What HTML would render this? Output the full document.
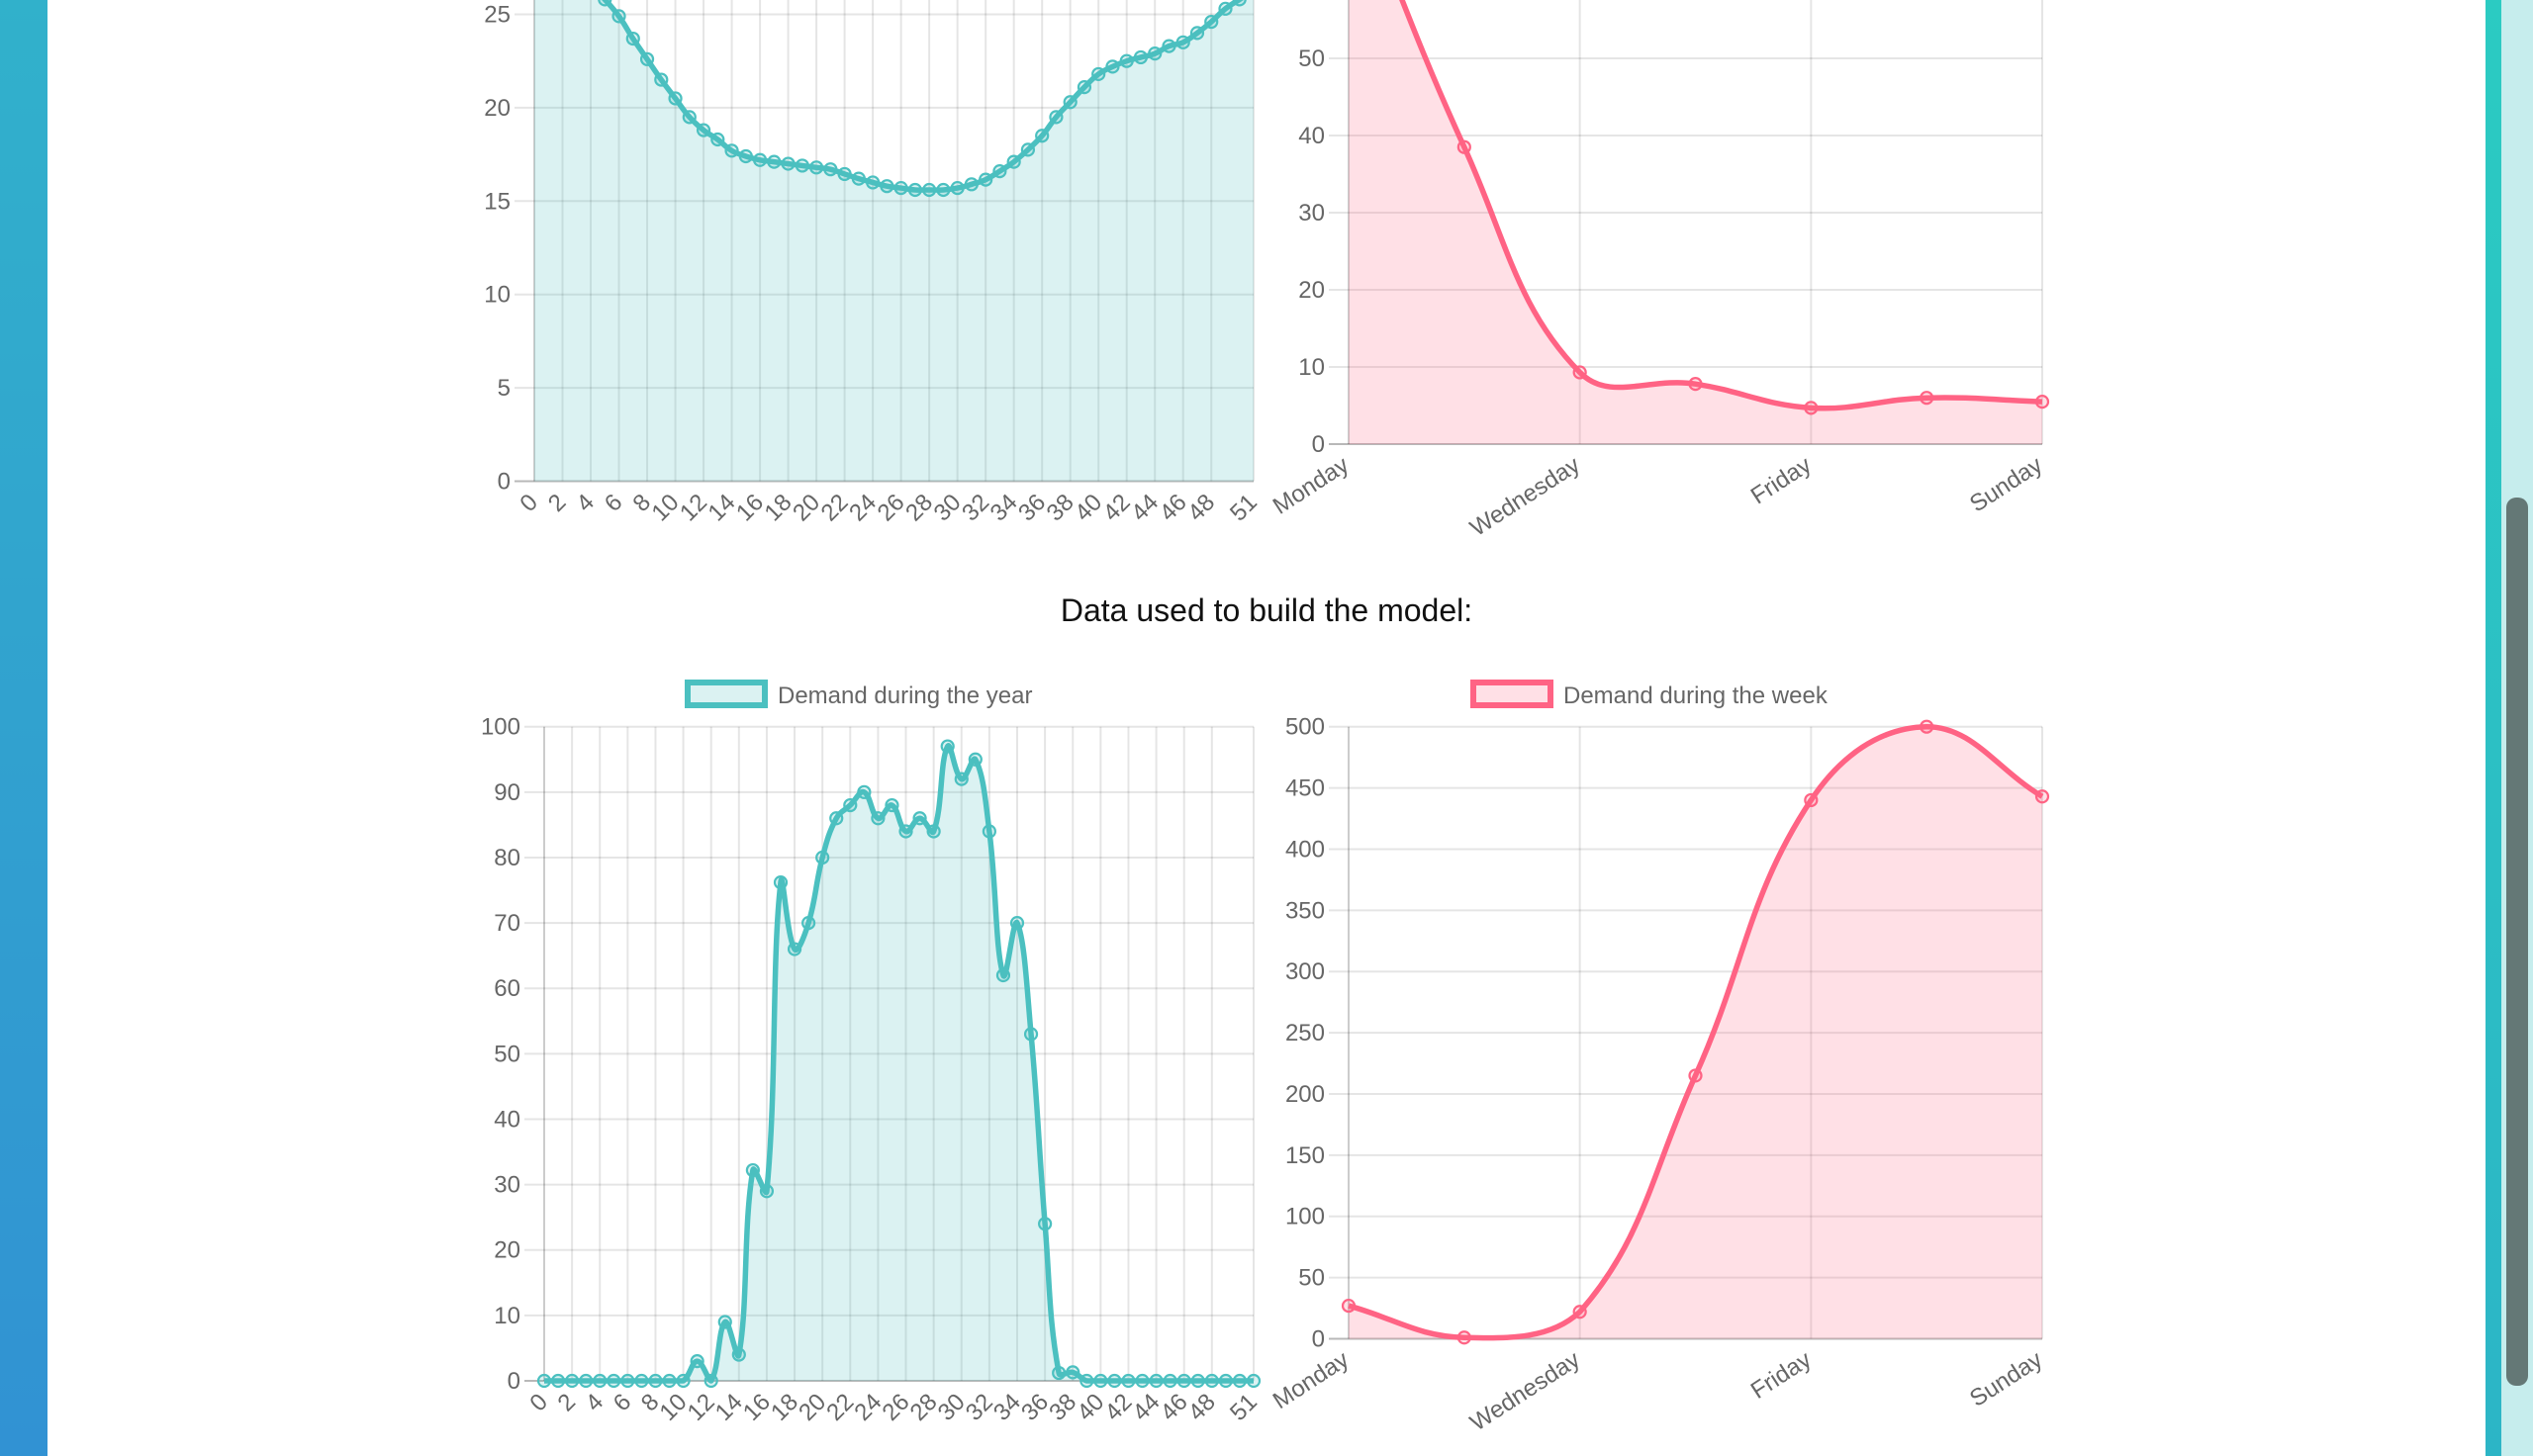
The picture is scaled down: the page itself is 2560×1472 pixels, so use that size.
<!DOCTYPE html>
<html><head><meta charset="utf-8"><style>
html,body{margin:0;padding:0;width:2560px;height:1472px;overflow:hidden;background:#fff;}
svg{display:block;font-family:"Liberation Sans",Arial,sans-serif;}
</style></head><body>
<svg id="root" width="2560" height="1472" viewBox="0 0 2560 1472">
<defs>
<linearGradient id="lg" x1="0" y1="0" x2="0" y2="1"><stop offset="0" stop-color="#31b1cb"/><stop offset="1" stop-color="#3192d3"/></linearGradient>
<linearGradient id="rg" x1="0" y1="0" x2="0" y2="1"><stop offset="0" stop-color="#2bcbc2"/><stop offset="1" stop-color="#2cb5c6"/></linearGradient>
</defs>
<rect x="0" y="0" width="48" height="1472" fill="url(#lg)"/>
<rect x="2512" y="0" width="16" height="1472" fill="url(#rg)"/>
<rect x="2528" y="0" width="32" height="1472" fill="#c6eded"/>
<rect x="2533" y="503" width="22" height="898" rx="10" fill="#647876"/>
<text x="1280" y="628" text-anchor="middle" font-size="32" fill="#111">Data used to build the model:</text>
<g id="charts"></g>
</svg>
<script>
// ---- data ----
const yearLabels = Array.from({length:52},(_,i)=>String(i));
const weekLabels = ["Monday","Tuesday","Wednesday","Thursday","Friday","Saturday","Sunday"];
const predYear = [30.0,29.2,28.3,27.4,26.6,25.8,24.9,23.7,22.6,21.5,20.5,19.5,18.8,18.3,17.7,17.4,17.2,17.1,17.0,16.9,16.8,16.7,16.45,16.2,16.0,15.8,15.7,15.6,15.6,15.6,15.7,15.9,16.15,16.6,17.1,17.75,18.5,19.5,20.3,21.1,21.8,22.2,22.5,22.7,22.9,23.3,23.5,24.0,24.6,25.3,25.8,26.3];
const predWeek = [75,38.5,9.3,7.8,4.7,6.0,5.5];
const dataYear = [0,0,0,0,0,0,0,0,0,0,0,3,0,9,4,32.2,29,76.2,66,70,80,86,88,90,86,88,84,86,84,97,92,95,84,62,70,53,24,1.2,1.3,0,0,0,0,0,0,0,0,0,0,0,0,0];
const dataWeek = [27,1,22,215,440,500,443];
const ticksPredYear = [0,5,10,15,20,25,30];
const ticksPredWeek = [0,10,20,30,40,50,60,70,80];
const ticksYear = [0,10,20,30,40,50,60,70,80,90,100];
const ticksWeek = [0,50,100,150,200,250,300,350,400,450,500];
const yearShown = [0,2,4,6,8,10,12,14,16,18,20,22,24,26,28,30,32,34,36,38,40,42,44,46,48,51];
const weekShown = [0,2,4,6];

const NS="http://www.w3.org/2000/svg";
const root=document.getElementById('charts');
function mk(tag,attrs,parent){const e=document.createElementNS(NS,tag);for(const k in attrs)e.setAttribute(k,attrs[k]);(parent||root).appendChild(e);return e;}

function spline(pts,top,bottom){
  const t=0.4,out=[];
  for(let i=0;i<pts.length;i++){
    const p0=pts[i-1]||pts[i],p1=pts[i],p2=pts[i+1]||pts[i];
    const d01=Math.hypot(p1[0]-p0[0],p1[1]-p0[1]),d12=Math.hypot(p2[0]-p1[0],p2[1]-p1[1]);
    let s01=d01/(d01+d12),s12=d12/(d01+d12);if(isNaN(s01))s01=0;if(isNaN(s12))s12=0;
    const fa=t*s01,fb=t*s12;
    let c1=[p1[0]-fa*(p2[0]-p0[0]),p1[1]-fa*(p2[1]-p0[1])];
    let c2=[p1[0]+fb*(p2[0]-p0[0]),p1[1]+fb*(p2[1]-p0[1])];
    c1[1]=Math.min(bottom,Math.max(top,c1[1]));c2[1]=Math.min(bottom,Math.max(top,c2[1]));
    out.push({p:p1,c1,c2});
  }
  let d=`M${out[0].p[0]},${out[0].p[1]}`;
  for(let i=1;i<out.length;i++){d+=` C${out[i-1].c2[0]},${out[i-1].c2[1]} ${out[i].c1[0]},${out[i].c1[1]} ${out[i].p[0]},${out[i].p[1]}`;}
  return d;
}

function chart(o){
  const g=mk('g',{});
  
  
  const yMax=o.ticks[o.ticks.length-1];
  const ys=v=>o.y0-(v/o.unit)*o.upx;
  const top=ys(yMax);
  const n=o.labels.length;
  const xs=i=>o.x0+(o.x1-o.x0)*i/(n-1);
  o.ticks.forEach(v=>{
    const y=ys(v);
    const l=mk('line',{x1:o.x0-20,x2:o.x1,y1:y,y2:y,stroke:v===0?'rgba(0,0,0,0.28)':'rgba(0,0,0,0.1)','stroke-width':2},g);
    
    
    const tx=mk('text',{x:o.x0-24,y:y+8,'text-anchor':'end','font-size':24,fill:'#666'},g);
    tx.textContent=v;
    
    
  });
  o.shown.forEach(i=>{
    const x=xs(i);
    const l=mk('line',{x1:x,x2:x,y1:Math.max(top,-10),y2:o.y0,stroke:i===0?'rgba(0,0,0,0.2)':'rgba(0,0,0,0.1)','stroke-width':2},g);
    
    
    const tx=mk('text',{x:0,y:0,dy:'0.75em','text-anchor':'end','font-size':24,fill:'#666',transform:`translate(${x+o.lx},${o.y0+o.ly}) rotate(${o.rot})`},g);
    tx.textContent=o.labels[i];
    
    
  });
  const pts=o.data.map((v,i)=>[xs(i),ys(v)]);
  const d=spline(pts,top,o.y0);
  const area=mk('path',{d:d+` L${xs(n-1)},${o.y0} L${xs(0)},${o.y0} Z`,fill:o.fill},g);
  
  
  const line=mk('path',{d:d,fill:'none',stroke:o.color,'stroke-width':5.5,'stroke-linejoin':'round'},g);
  
  
  pts.forEach(p=>{
    const c=mk('circle',{cx:p[0],cy:p[1],r:6,fill:o.fill,stroke:o.color,'stroke-width':2.2},g);
    
    
  });
  if(o.legend){
    const lb=mk('rect',{x:o.legend.x,y:690,width:78,height:23,fill:o.fill,stroke:o.color,'stroke-width':6},g);
    
    
    const lt=mk('text',{x:o.legend.x+91,y:711,'font-size':24,fill:'#666'},g);
    lt.textContent=o.legend.text;
    
    
  }
}
const teal='#4bc0c0',tealF='rgba(75,192,192,0.2)',pink='#ff6384',pinkF='rgba(255,99,132,0.2)';
chart({name:'predicted-year-chart',labels:yearLabels,data:predYear,ticks:ticksPredYear,shown:yearShown,x0:540,x1:1267,y0:486.5,unit:5,upx:94.4,color:teal,fill:tealF,rot:-45,lx:-8,ly:10});
chart({name:'predicted-week-chart',labels:weekLabels,data:predWeek,ticks:ticksPredWeek,shown:weekShown,x0:1363,x1:2064,y0:449,unit:10,upx:78,color:pink,fill:pinkF,rot:-33,lx:-8,ly:10});
chart({name:'year-demand-chart',labels:yearLabels,data:dataYear,ticks:ticksYear,shown:yearShown,x0:550,x1:1267,y0:1396,unit:10,upx:66.13,color:teal,fill:tealF,rot:-45,lx:-8,ly:10,legend:{x:695,text:'Demand during the year'}});
chart({name:'week-demand-chart',labels:weekLabels,data:dataWeek,ticks:ticksWeek,shown:weekShown,x0:1363,x1:2064,y0:1353.5,unit:50,upx:61.88,color:pink,fill:pinkF,rot:-33,lx:-8,ly:10,legend:{x:1489,text:'Demand during the week'}});
</script>
</body></html>
